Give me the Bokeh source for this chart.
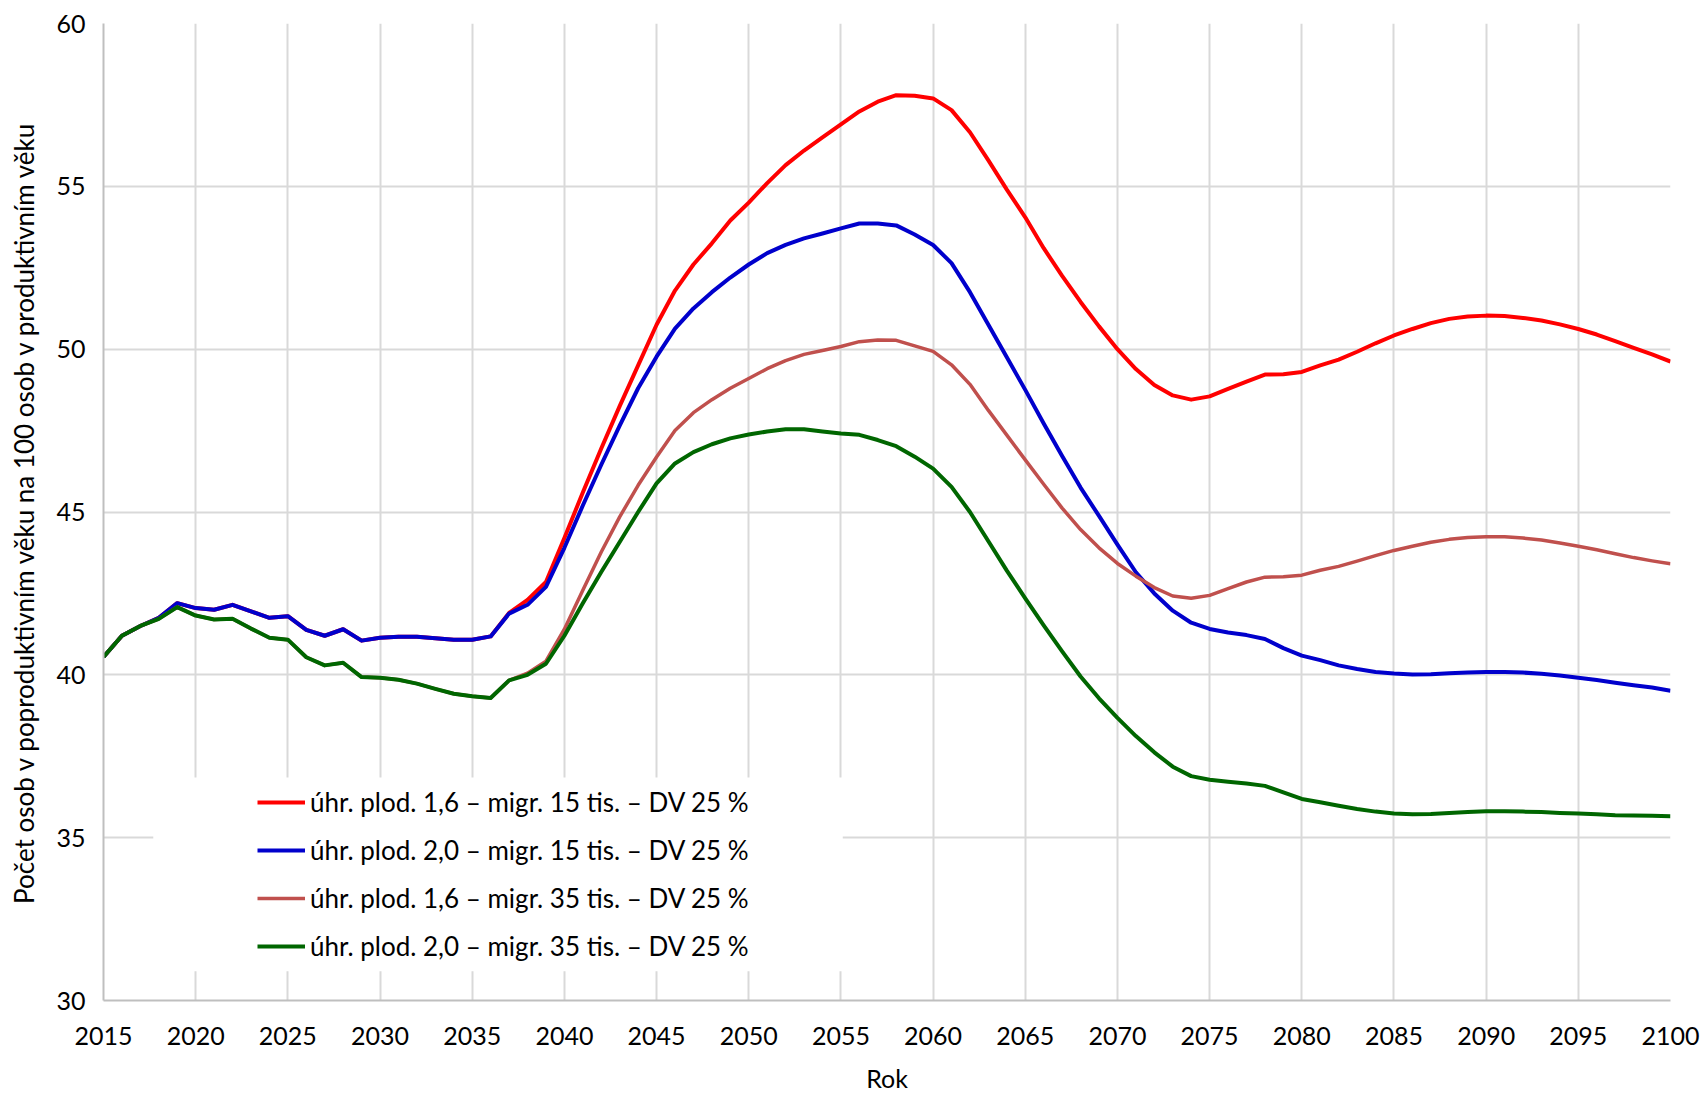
from bokeh.plotting import figure
from bokeh.models import Legend, LegendItem, BoxAnnotation, FixedTicker, Range1d
from bokeh.embed import file_html
from bokeh.resources import INLINE

years = list(range(2015, 2101))

labels = [
    "úhr. plod. 1,6 – migr. 15 tis. – DV 25 %",
    "úhr. plod. 2,0 – migr. 15 tis. – DV 25 %",
    "úhr. plod. 1,6 – migr. 35 tis. – DV 25 %",
    "úhr. plod. 2,0 – migr. 35 tis. – DV 25 %",
]

red = [40.55, 41.2, 41.5, 41.75, 42.2, 42.05, 42.0, 42.15, 41.95, 41.75,
       41.8, 41.38, 41.2, 41.4, 41.05, 41.14, 41.17, 41.17, 41.12, 41.08,
       41.08, 41.18, 41.9, 42.3, 42.85, 44.2, 45.6, 46.95, 48.25, 49.5,
       50.75, 51.8, 52.6, 53.25, 53.95, 54.5, 55.1, 55.65, 56.1, 56.5,
       56.9, 57.3, 57.6, 57.8, 57.78, 57.7, 57.34, 56.66, 55.8, 54.9,
       54.05, 53.1, 52.25, 51.45, 50.7, 50.0, 49.39, 48.9, 48.58, 48.45,
       48.55, 48.78, 49.0, 49.22, 49.23, 49.3, 49.5, 49.68, 49.92, 50.18,
       50.42, 50.62, 50.8, 50.93, 51.0, 51.03, 51.02, 50.96, 50.88, 50.76,
       50.62, 50.45, 50.25, 50.04, 49.84, 49.62]

blue = [40.55, 41.2, 41.5, 41.75, 42.2, 42.05, 42.0, 42.15, 41.95, 41.75,
        41.8, 41.38, 41.2, 41.4, 41.05, 41.14, 41.17, 41.17, 41.12, 41.08,
        41.08, 41.18, 41.88, 42.15, 42.7, 43.9, 45.2, 46.45, 47.65, 48.8,
        49.77, 50.63, 51.25, 51.75, 52.2, 52.6, 52.95, 53.2, 53.4, 53.55,
        53.71, 53.86, 53.86, 53.8, 53.52, 53.2, 52.64, 51.75, 50.75, 49.75,
        48.75, 47.72, 46.72, 45.75, 44.88, 44.0, 43.15, 42.5, 41.97, 41.6,
        41.41, 41.3, 41.22, 41.1, 40.82, 40.59, 40.45, 40.29, 40.18, 40.09,
        40.04, 40.01, 40.02, 40.05, 40.07, 40.09, 40.09, 40.07, 40.03, 39.98,
        39.91, 39.84, 39.76, 39.68, 39.61, 39.51]

pink = [40.55, 41.2, 41.5, 41.72, 42.08, 41.82, 41.7, 41.72, 41.42, 41.14,
        41.08, 40.54, 40.29, 40.37, 39.93, 39.91, 39.85, 39.73, 39.57, 39.42,
        39.34, 39.29, 39.83, 40.05, 40.42, 41.4, 42.6, 43.77, 44.85, 45.82,
        46.69, 47.5, 48.05, 48.45, 48.8, 49.1, 49.4, 49.65, 49.84, 49.96,
        50.08, 50.23, 50.28, 50.27, 50.1, 49.93, 49.52, 48.92, 48.12, 47.36,
        46.6, 45.85, 45.12, 44.46, 43.9, 43.42, 43.03, 42.68, 42.42, 42.35,
        42.44, 42.65, 42.85, 43.0, 43.01, 43.06, 43.21, 43.33, 43.49, 43.66,
        43.82, 43.95, 44.07, 44.16, 44.22, 44.24, 44.24, 44.2, 44.14, 44.05,
        43.95, 43.84, 43.72, 43.6, 43.5, 43.41]

green = [40.55, 41.2, 41.5, 41.72, 42.08, 41.82, 41.7, 41.72, 41.42, 41.14,
         41.08, 40.54, 40.29, 40.37, 39.93, 39.91, 39.85, 39.73, 39.57, 39.42,
         39.34, 39.29, 39.83, 40.0, 40.34, 41.2, 42.2, 43.16, 44.08, 45.0,
         45.88, 46.49, 46.84, 47.08, 47.26, 47.38, 47.47, 47.54, 47.54, 47.47,
         47.41, 47.37, 47.21, 47.02, 46.7, 46.33, 45.77, 45.0, 44.1, 43.2,
         42.35, 41.52, 40.72, 39.95, 39.28, 38.68, 38.12, 37.62, 37.18, 36.89,
         36.78, 36.72, 36.66, 36.59, 36.39, 36.19, 36.09, 35.98, 35.88, 35.8,
         35.74, 35.72, 35.73, 35.76, 35.79, 35.81, 35.81, 35.8, 35.79, 35.76,
         35.74, 35.72, 35.69, 35.68, 35.67, 35.66]

x_ticks = list(range(2015, 2101, 5))
y_ticks = [30, 35, 40, 45, 50, 55, 60]

FONT = "Lato"

p = figure(width=1700, height=1096, output_backend="svg", toolbar_location=None,
           x_range=Range1d(2015, 2100), y_range=Range1d(30, 60),
           min_border_left=103, min_border_right=30, min_border_top=23, min_border_bottom=96)
p.outline_line_color = None
p.background_fill_color = "white"

for ax in (p.xaxis[0], p.yaxis[0]):
    ax.axis_line_color = "#bfbfbf"
    ax.axis_line_width = 2
    ax.major_tick_line_color = None
    ax.minor_tick_line_color = None
    ax.major_label_text_font = FONT
    ax.major_label_text_font_size = "25px"
    ax.major_label_text_color = "#000000"
    ax.axis_label_text_font = FONT
    ax.axis_label_text_font_style = "normal"
    ax.axis_label_text_color = "#000000"

p.xaxis.ticker = FixedTicker(ticks=x_ticks)
p.yaxis.ticker = FixedTicker(ticks=y_ticks)
p.xaxis.major_label_standoff = 20
p.yaxis.major_label_standoff = 12
p.xaxis.axis_label = "Rok"
p.xaxis.axis_label_text_font_size = "25px"
p.xaxis.axis_label_standoff = 15
p.yaxis.axis_label = "Počet osob v poproduktivním věku na 100 osob v produktivním věku"
p.yaxis.axis_label_text_font_size = "26px"
p.yaxis.axis_label_standoff = 13

p.xgrid.ticker = FixedTicker(ticks=x_ticks)
p.ygrid.ticker = FixedTicker(ticks=y_ticks)
for g in (p.xgrid[0], p.ygrid[0]):
    g.grid_line_color = "#d9d9d9"
    g.grid_line_width = 2

# white box behind the legend, hiding the grid lines as in the original
p.add_layout(BoxAnnotation(left=2017.7, right=2055.1, bottom=30.9, top=36.85,
                           fill_color="white", fill_alpha=1.0, line_alpha=0, level="underlay"))

r1 = p.line(years, red, line_color="#ff0000", line_width=4, line_join="round")
r2 = p.line(years, blue, line_color="#0000cc", line_width=4, line_join="round")
r3 = p.line(years, pink, line_color="#c0504d", line_width=3.5, line_join="round")
r4 = p.line(years, green, line_color="#006600", line_width=4, line_join="round")

legend = Legend(items=[LegendItem(label=labels[0], renderers=[r1]),
                       LegendItem(label=labels[1], renderers=[r2]),
                       LegendItem(label=labels[2], renderers=[r3]),
                       LegendItem(label=labels[3], renderers=[r4])],
                location=(144, 28), orientation="vertical",
                glyph_width=48, glyph_height=30, label_height=30, label_standoff=5,
                spacing=16, padding=10, margin=0,
                label_text_font=FONT, label_text_font_size="26px", label_text_color="#000000",
                background_fill_alpha=0, border_line_alpha=0)
p.add_layout(legend, "center")

open("out.html", "w").write(file_html(p, INLINE))
